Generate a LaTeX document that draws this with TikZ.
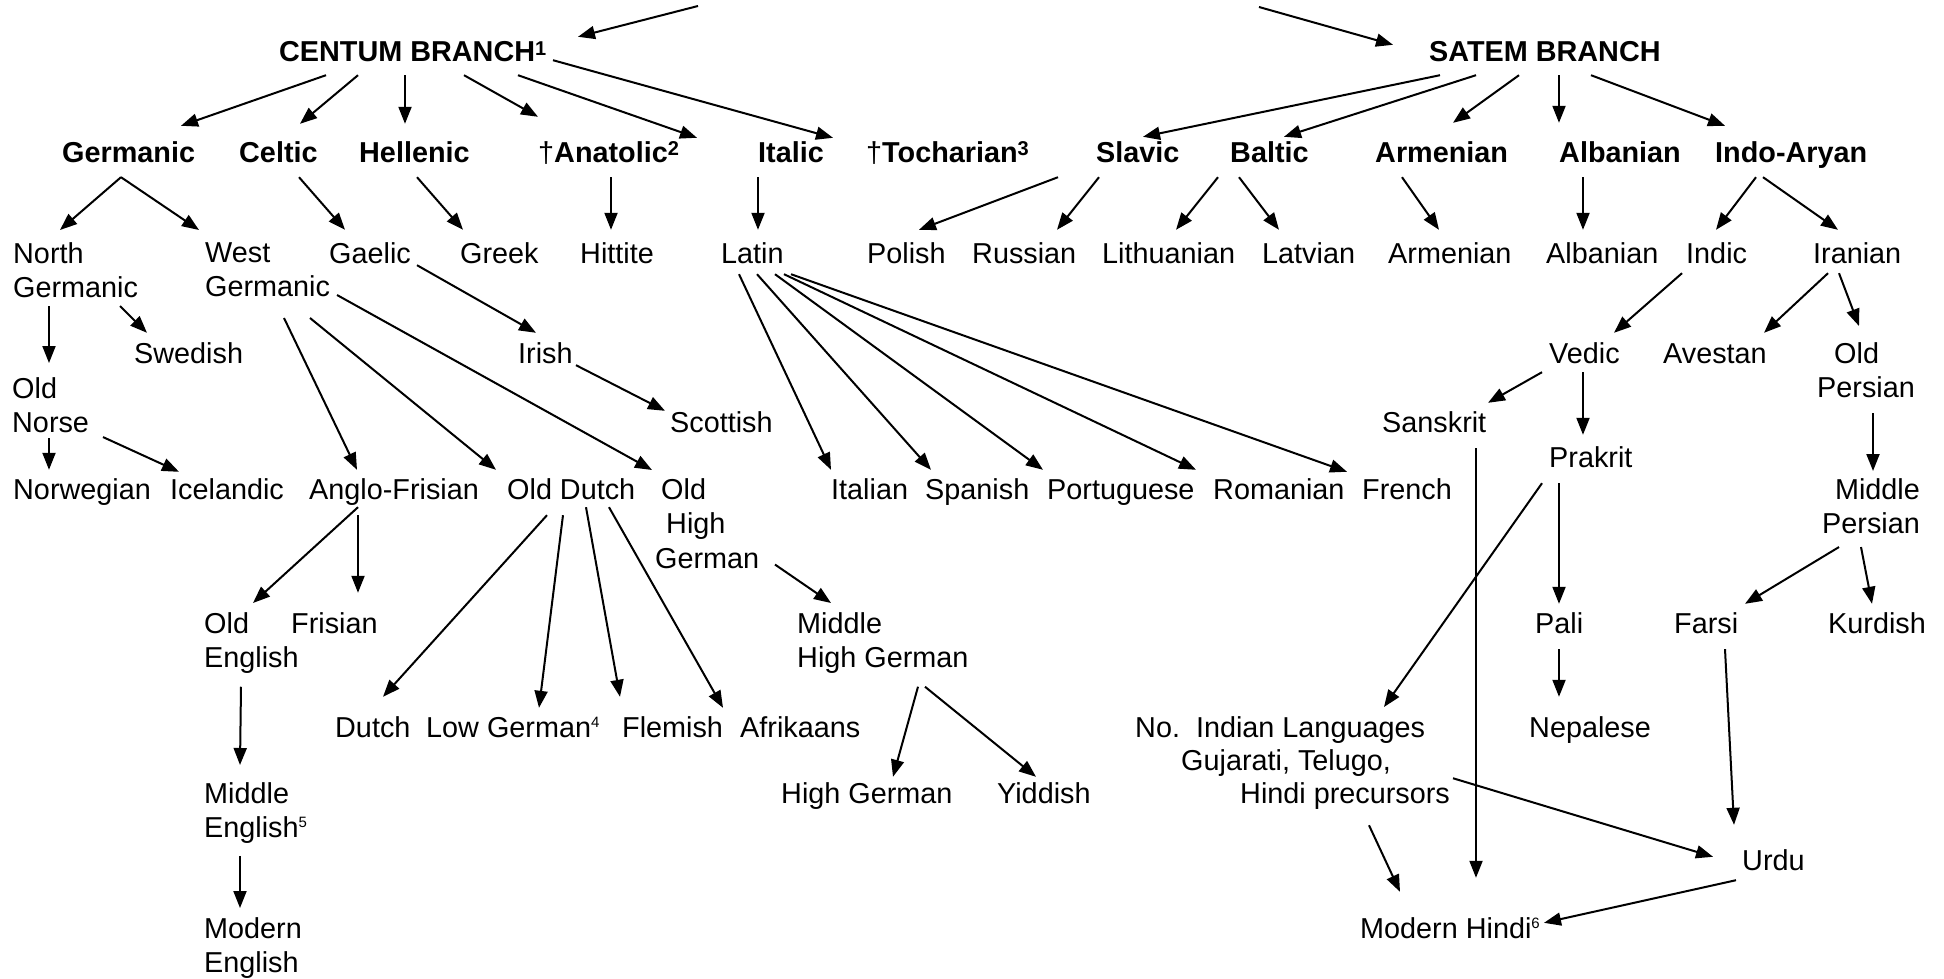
\documentclass[tikz,border=0pt]{standalone}
\usepackage{fontspec}
\setmainfont{Liberation Sans}
\usetikzlibrary{arrows.meta}
\newcommand{\hmark}[1]{\raisebox{6.5pt}{\fontsize{20}{20}\selectfont #1}}
\newcommand{\lmark}[1]{\raisebox{10pt}{\fontsize{15}{15}\selectfont #1}}
\tikzset{
  lang/.style={font=\fontsize{28.8}{34.5}\selectfont, inner sep=0pt, anchor=base west, text height=21pt, text depth=6pt},
  head/.style={lang, font=\fontsize{28.8}{34.5}\selectfont\bfseries},
  langs/.style={font=\fontsize{28.8}{34.5}\selectfont, inner sep=0pt, anchor=north west, align=left},
  arr/.style={line width=2pt, -{Triangle[length=17pt,width=13pt]}}
}

\begin{document}
\begin{tikzpicture}[x=1pt,y=1pt]
			%%%%% START %%%%%
			\useasboundingbox (0,0) rectangle (1944,-979);

			\node[head] (centum) at (279,-62) {CENTUM BRANCH\hmark{1}};
			\node[head] (satem) at (1429,-62) {SATEM BRANCH};
			\coordinate (topleft) at (698,-6);
			\coordinate (topright) at (1259,-7);

			\node[head] (germanic) at (62,-162) {Germanic};
			\node[head] (celtic) at (239,-162) {Celtic};
			\node[head] (hellenic) at (359,-162) {Hellenic};
			\node[head] (anatolic) at (538,-162) {\textmd{†}Anatolic\hmark{2}};
			\node[head] (italic) at (758,-162) {Italic};
			\node[head] (tocharian) at (866,-162) {\textmd{†}Tocharian\hmark{3}};
			\node[head] (slavic) at (1096,-162) {Slavic};
			\node[head] (baltic) at (1230,-162) {Baltic};
			\node[head] (armenianb) at (1375,-162) {Armenian};
			\node[head] (albanianb) at (1559,-162) {Albanian};
			\node[head] (indoaryan) at (1715,-162) {Indo-Aryan};

			\node[langs] (northgerm) at (13,-242) {North\\Germanic};
			\node[langs] (westgerm) at (205,-242) {West\\Germanic};
			\node[lang] (gaelic) at (329,-263) {Gaelic};
			\node[lang] (greek) at (460,-263) {Greek};
			\node[lang] (hittite) at (580,-263) {Hittite};
			\node[lang] (latin) at (721,-263) {Latin};
			\node[lang] (polish) at (867,-263) {Polish};
			\node[lang] (russian) at (972,-263) {Russian};
			\node[lang] (lithuanian) at (1102,-263) {Lithuanian};
			\node[lang] (latvian) at (1262,-263) {Latvian};
			\node[lang] (armenian) at (1388,-263) {Armenian};
			\node[lang] (albanian) at (1546,-263) {Albanian};
			\node[lang] (indic) at (1686,-263) {Indic};
			\node[lang] (iranian) at (1813,-263) {Iranian};

			\node[lang] (swedish) at (134,-363) {Swedish};
			\node[lang] (irish) at (518,-363) {Irish};
			\node[lang] (vedic) at (1549,-363) {Vedic};
			\node[lang] (avestan) at (1663,-363) {Avestan};
			\node[langs] (oldpersian) at (1817,-342) {\hspace*{17pt}Old\\Persian};
			\node[langs] (oldnorse) at (12,-377) {Old\\Norse};
			\node[lang] (scottish) at (670,-432) {Scottish};
			\node[lang] (sanskrit) at (1382,-432) {Sanskrit};
			\node[lang] (prakrit) at (1549,-467) {Prakrit};

			\node[lang] (norwegian) at (13,-499) {Norwegian};
			\node[lang] (icelandic) at (170,-499) {Icelandic};
			\node[lang] (anglofrisian) at (309,-499) {Anglo-Frisian};
			\node[lang] (olddutch) at (507,-499) {Old Dutch};
			\node[langs] (oldhighgerman) at (655,-478) {\hspace*{6pt}Old\\\hspace*{11pt}High\\German};
			\node[lang] (italian) at (831,-499) {Italian};
			\node[lang] (spanish) at (925,-499) {Spanish};
			\node[lang] (portuguese) at (1047,-499) {Portuguese};
			\node[lang] (romanian) at (1213,-499) {Romanian};
			\node[lang] (french) at (1362,-499) {French};
			\node[langs, align=right] (middlepersian) at (1822,-478) {Middle\\Persian};

			\node[langs] (oldenglish) at (204,-612) {Old\\English};
			\node[lang] (frisian) at (291,-633) {Frisian};
			\node[langs] (middlehighgerman) at (797,-612) {Middle\\High German};
			\node[lang] (pali) at (1535,-633) {Pali};
			\node[lang] (farsi) at (1674,-633) {Farsi};
			\node[lang] (kurdish) at (1828,-633) {Kurdish};

			\node[lang] (dutch) at (335,-737) {Dutch};
			\node[lang] (lowgerman) at (426,-737) {Low German\lmark{4}};
			\node[lang] (flemish) at (622,-737) {Flemish};
			\node[lang] (afrikaans) at (740,-737) {Afrikaans};
			\node[langs, font=\fontsize{28.8}{33}\selectfont] (noindian) at (1135,-716) {No.\ \ Indian Languages\\\hspace*{46pt}Gujarati, Telugo,\\\hspace*{105pt}Hindi precursors};
			\node[lang] (nepalese) at (1529,-737) {Nepalese};

			\node[langs] (middleenglish) at (204,-782) {Middle\\English\lmark{5}};
			\node[lang] (highgerman) at (781,-803) {High German};
			\node[lang] (yiddish) at (997,-803) {Yiddish};
			\node[lang] (urdu) at (1742,-870) {Urdu};
			\node[langs] (modernenglish) at (204,-917) {Modern\\English};
			\node[lang] (modernhindi) at (1360,-938) {Modern Hindi\lmark{6}};

			% branches
			\draw[arr] (topleft) -- ([xshift=299pt,yshift=4pt]centum.north west);
			\draw[arr] (topright) -- ([xshift=-36pt,yshift=-4pt]satem.north west);

			\draw[arr] ([xshift=47pt,yshift=-7pt]centum.south west) -- ([xshift=119pt,yshift=15pt]germanic.north west);
			\draw[arr] ([xshift=79pt,yshift=-7pt]centum.south west) -- ([xshift=61pt,yshift=17pt]celtic.north west);
			\draw[arr] ([xshift=126pt,yshift=-7pt]centum.south west) -- ([xshift=46pt,yshift=17pt]hellenic.north west);
			\draw[arr] ([xshift=185pt,yshift=-7pt]centum.south west) -- ([yshift=24pt]anatolic.north west);
			\draw[arr] ([xshift=239pt,yshift=-7pt]centum.south west) -- ([xshift=-61pt,yshift=3pt]italic.north west);
			\draw[arr] ([xshift=274pt,yshift=8pt]centum.south west) -- ([xshift=-33pt,yshift=3pt]tocharian.north west);

			\draw[arr] ([xshift=11pt,yshift=-7pt]satem.south west) -- ([xshift=47pt,yshift=4pt]slavic.north west);
			\draw[arr] ([xshift=47pt,yshift=-7pt]satem.south west) -- ([xshift=54pt,yshift=4pt]baltic.north west);
			\draw[arr] ([xshift=90pt,yshift=-7pt]satem.south west) -- ([xshift=78pt,yshift=18pt]armenianb.north west);
			\draw[arr] ([xshift=130pt,yshift=-7pt]satem.south west) -- ([yshift=18pt]albanianb.north west);
			\draw[arr] ([xshift=162pt,yshift=-7pt]satem.south west) -- ([xshift=10pt,yshift=15pt]indoaryan.north west);

			% families
			\draw[arr] ([xshift=59pt,yshift=-9pt]germanic.south west) -- ([xshift=47pt,yshift=12pt]northgerm.north west);
			\draw[arr] ([xshift=59pt,yshift=-9pt]germanic.south west) -- ([xshift=-6pt,yshift=12pt]westgerm.north west);
			\draw[arr] ([xshift=60pt,yshift=-9pt]celtic.south west) -- ([xshift=16pt,yshift=12pt]gaelic.north west);
			\draw[arr] ([xshift=58pt,yshift=-9pt]hellenic.south west) -- ([xshift=3pt,yshift=12pt]greek.north west);
			\draw[arr] ([xshift=73pt,yshift=-9pt]anatolic.south west) -- ([xshift=31pt,yshift=12pt]hittite.north west);
			\draw[arr] ([yshift=-9pt]italic.south west) -- ([xshift=37pt,yshift=12pt]latin.north west);
			\draw[arr] ([xshift=-38pt,yshift=-9pt]slavic.south west) -- ([xshift=52pt,yshift=12pt]polish.north west);
			\draw[arr] ([xshift=3pt,yshift=-9pt]slavic.south west) -- ([xshift=85pt,yshift=12pt]russian.north west);
			\draw[arr] ([xshift=-12pt,yshift=-9pt]baltic.south west) -- ([xshift=74pt,yshift=12pt]lithuanian.north west);
			\draw[arr] ([xshift=9pt,yshift=-9pt]baltic.south west) -- ([xshift=17pt,yshift=12pt]latvian.north west);
			\draw[arr] ([xshift=27pt,yshift=-9pt]armenianb.south west) -- ([xshift=51pt,yshift=12pt]armenian.north west);
			\draw[arr] ([xshift=24pt,yshift=-9pt]albanianb.south west) -- ([xshift=37pt,yshift=12pt]albanian.north west);
			\draw[arr] ([xshift=41pt,yshift=-9pt]indoaryan.south west) -- ([xshift=30pt,yshift=12pt]indic.north west);
			\draw[arr] ([xshift=48pt,yshift=-9pt]indoaryan.south west) -- ([xshift=25pt,yshift=12pt]iranian.north west);

			% germanic and celtic
			\draw[arr] ([xshift=36pt,yshift=-8pt]northgerm.south west) -- ([xshift=37pt,yshift=14pt]oldnorse.north west);
			\draw[arr] ([xshift=107pt,yshift=-8pt]northgerm.south west) -- ([xshift=13pt,yshift=9pt]swedish.north west);
			\draw[arr] ([xshift=37pt,yshift=-5pt]oldnorse.south west) -- ([xshift=36pt,yshift=8pt]norwegian.north west);
			\draw[arr] ([xshift=91pt,yshift=-4pt]oldnorse.south west) -- ([xshift=9pt,yshift=6pt]icelandic.north west);
			\draw[arr] ([xshift=79pt,yshift=-21pt]westgerm.south west) -- ([xshift=48pt,yshift=8pt]anglofrisian.north west);
			\draw[arr] ([xshift=105pt,yshift=-21pt]westgerm.south west) -- ([xshift=-11pt,yshift=8pt]olddutch.north west);
			\draw[arr] ([xshift=132pt,yshift=2pt]westgerm.south west) -- ([xshift=-3pt,yshift=8pt]oldhighgerman.north west);
			\draw[arr] ([xshift=88pt,yshift=4pt]gaelic.south west) -- ([xshift=18pt,yshift=9pt]irish.north west);
			\draw[arr] ([xshift=58pt,yshift=4pt]irish.south west) -- ([xshift=-5pt]scottish.north west);

			\draw[arr] ([xshift=49pt,yshift=-2pt]anglofrisian.south west) -- ([xshift=49pt,yshift=9pt]oldenglish.north west);
			\draw[arr] ([xshift=49pt,yshift=-10pt]anglofrisian.south west) -- ([xshift=67pt,yshift=19pt]frisian.north west);
			\draw[arr] ([xshift=40pt,yshift=-10pt]olddutch.south west) -- ([xshift=48pt,yshift=19pt]dutch.north west);
			\draw[arr] ([xshift=56pt,yshift=-10pt]olddutch.south west) -- ([xshift=113pt,yshift=8pt]lowgerman.north west);
			\draw[arr] ([xshift=79pt,yshift=-2pt]olddutch.south west) -- ([xshift=-2pt,yshift=19pt]flemish.north west);
			\draw[arr] ([xshift=102pt,yshift=-2pt]olddutch.south west) -- ([xshift=-17pt,yshift=8pt]afrikaans.north west);
			\draw[arr] ([xshift=120pt,yshift=4pt]oldhighgerman.south west) -- ([xshift=34pt,yshift=9pt]middlehighgerman.north west);
			\draw[arr] ([xshift=121pt,yshift=-13pt]middlehighgerman.south west) -- ([xshift=112pt,yshift=5pt]highgerman.north west);
			\draw[arr] ([xshift=128pt,yshift=-13pt]middlehighgerman.south west) -- ([xshift=39pt,yshift=5pt]yiddish.north west);
			\draw[arr] ([xshift=37pt,yshift=-13pt]oldenglish.south west) -- ([xshift=36pt,yshift=17pt]middleenglish.north west);
			\draw[arr] ([xshift=36pt,yshift=-12pt]middleenglish.south west) -- ([xshift=36pt,yshift=9pt]modernenglish.north west);

			% italic
			\draw[arr] ([xshift=18pt,yshift=-5pt]latin.south west) -- ([yshift=8pt]italian.north west);
			\draw[arr] ([xshift=36pt,yshift=-5pt]latin.south west) -- ([xshift=6pt,yshift=8pt]spanish.north west);
			\draw[arr] ([xshift=54pt,yshift=-5pt]latin.south west) -- ([xshift=-4pt,yshift=8pt]portuguese.north west);
			\draw[arr] ([xshift=63pt,yshift=-5pt]latin.south west) -- ([xshift=-17pt,yshift=8pt]romanian.north west);
			\draw[arr] ([xshift=70pt,yshift=-5pt]latin.south west) -- ([xshift=-15pt,yshift=6pt]french.north west);

			% indo-aryan
			\draw[arr] ([xshift=-4pt,yshift=-4pt]indic.south west) -- ([xshift=65pt,yshift=9pt]vedic.north west);
			\draw[arr] ([xshift=15pt,yshift=-4pt]iranian.south west) -- ([xshift=101pt,yshift=9pt]avestan.north west);
			\draw[arr] ([xshift=26pt,yshift=-4pt]iranian.south west) -- ([xshift=42pt,yshift=16pt]oldpersian.north west);
			\draw[arr] ([xshift=-7pt,yshift=-3pt]vedic.south west) -- ([xshift=106pt,yshift=8pt]sanskrit.north west);
			\draw[arr] ([xshift=34pt,yshift=-3pt]vedic.south west) -- ([xshift=34pt,yshift=11pt]prakrit.north west);
			\draw[arr] ([xshift=56pt,yshift=-15pt]oldpersian.south west) -- ([xshift=51pt,yshift=7pt]middlepersian.north west);
			\draw[arr] ([xshift=17pt,yshift=-13pt]middlepersian.south west) -- ([xshift=71pt,yshift=8pt]farsi.north west);
			\draw[arr] ([xshift=39pt,yshift=-13pt]middlepersian.south west) -- ([xshift=44pt,yshift=8pt]kurdish.north west);
			\draw[arr] ([xshift=10pt,yshift=-10pt]prakrit.south west) -- ([xshift=24pt,yshift=8pt]pali.north west);
			\draw[arr] ([xshift=-7pt,yshift=-10pt]prakrit.south west) -- ([xshift=249pt,yshift=9pt]noindian.north west);
			\draw[arr] ([xshift=94pt,yshift=-10pt]sanskrit.south west) -- ([xshift=116pt,yshift=39pt]modernhindi.north west);
			\draw[arr] ([xshift=24pt,yshift=-10pt]pali.south west) -- ([xshift=30pt,yshift=19pt]nepalese.north west);
			\draw[arr] ([xshift=51pt,yshift=-10pt]farsi.south west) -- ([xshift=-8pt,yshift=24pt]urdu.north west);
			\draw[arr] ([xshift=318pt,yshift=31pt]noindian.south west) -- ([xshift=-29pt,yshift=-8pt]urdu.north west);
			\draw[arr] ([xshift=234pt,yshift=-16pt]noindian.south west) -- ([xshift=40pt,yshift=25pt]modernhindi.north west);
			\draw[arr] ([xshift=-6pt,yshift=-4pt]urdu.south west) -- ([xshift=184pt,yshift=-6pt]modernhindi.north west);

			%%%%% END %%%%%
\end{tikzpicture}
\end{document}
